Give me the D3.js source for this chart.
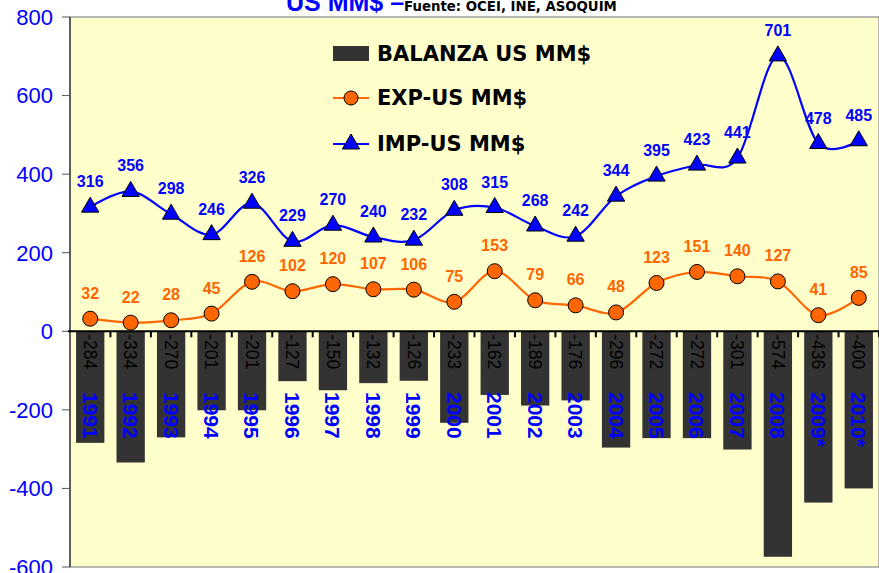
<!DOCTYPE html>
<html>
<head>
<meta charset="utf-8">
<script src="https://cdn.jsdelivr.net/npm/d3@7"></script>
<style>
  body { margin: 0; background: #ffffff; }
  svg { display: block; }
</style>
</head>
<body>
<script>
// balanza comercial quimica, US MM$ por año

var years = ["1991", "1992", "1993", "1994", "1995", "1996", "1997", "1998", "1999", "2000",
  "2001", "2002", "2003", "2004", "2005", "2006", "2007", "2008", "2009*", "2010*"];
var imports = [316, 356, 298, 246, 326, 229, 270, 240, 232, 308, 315, 268, 242, 344, 395, 423, 441, 701, 478, 485];
var exports = [32, 22, 28, 45, 126, 102, 120, 107, 106, 75, 153, 79, 66, 48, 123, 151, 140, 127, 41, 85];
var balance = [-284, -334, -270, -201, -201, -127, -150, -132, -126, -233, -162, -189, -176, -296, -272, -272, -301, -574, -436, -400];
var yTicks = [-600, -400, -200, 0, 200, 400, 600, 800];
var legendLabels = ["BALANZA US MM$", "EXP-US MM$", "IMP-US MM$"];

var width = 879, height = 573;
// note: "top" is taken by window.top, so plot* names
var plotLeft = 70, plotRight = 879, plotTop = 17, plotBottom = 567;

var svg = d3.select("body").append("svg")
  .attr("width", width)
  .attr("height", height)

var x = d3.scaleBand().domain(years).range([plotLeft, plotRight]).paddingInner(0.3).paddingOuter(0.15);
var xb = d3.scaleBand().domain(years).range([plotLeft, plotRight]);
var y = d3.scaleLinear().domain([-600, 800]).range([plotBottom, plotTop]);

function cx(d, i) { return xb(years[i]) + xb.bandwidth() / 2; }

// plot area
svg.append("rect")
  .attr("x", plotLeft).attr("y", plotTop)
  .attr("width", plotRight - plotLeft).attr("height", plotBottom - plotTop)
  .attr("fill", "#ffffcc")
  .attr("stroke", "#a0a0a0")
  .attr("stroke-width", 1.5)

// title (cut at top like the original)
var title = svg.append("text")
  .attr("x", 286).attr("y", 11)
  .attr("font-family", "Liberation Sans, Arial, sans-serif")
  .attr("font-weight", "bold")
  .attr("fill", "#0000ff")
  .attr("font-size", "25px")
  .text("US MM$ \u2013")
title.append("tspan")
  .attr("font-family", "DejaVu Sans, Verdana, sans-serif")
  .attr("font-size", "13.3px")
  .attr("fill", "#000")
  .text("Fuente: OCEI, INE, ASOQUIM")

// y axis
svg.append("line")
  .attr("x1", plotLeft).attr("x2", plotLeft).attr("y1", plotTop).attr("y2", plotBottom)
  .attr("stroke", "#222").attr("stroke-width", 1.2)

svg.selectAll(".ytick").data(yTicks).enter().append("line")
  .attr("x1", 62).attr("x2", plotLeft)
  .attr("y1", function (d) { return y(d); })
  .attr("y2", function (d) { return y(d); })
  .attr("stroke", "#555")

svg.selectAll(".ylab").data(yTicks).enter().append("text")
  .attr("x", 53)
  .attr("y", function (d) { return y(d); })
  .attr("dy", "0.36em")
  .attr("text-anchor", "end")
  .attr("font-family", "Liberation Sans, Arial, sans-serif")
  .attr("font-size", "22px")
  .attr("fill", "#0000ff")
  .text(function (d) { return d; })

// bars
svg.selectAll(".bar").data(balance).enter().append("rect")
  .attr("x", function (d, i) { return x(years[i]); })
  .attr("y", y(0))
  .attr("width", x.bandwidth())
  .attr("height", function (d) { return y(d) - y(0); })
  .attr("fill", "#333333")

// zero line + category ticks
svg.append("line")
  .attr("x1", plotLeft - 2).attr("x2", plotRight).attr("y1", y(0)).attr("y2", y(0))
  .attr("stroke", "#000").attr("stroke-width", 2)

svg.selectAll(".xtick").data(years).enter().append("line")
  .attr("x1", function (d) { return xb(d) + xb.bandwidth(); })
  .attr("x2", function (d) { return xb(d) + xb.bandwidth(); })
  .attr("y1", y(0)).attr("y2", y(0) + 6)
  .attr("stroke", "#000").attr("stroke-width", 2)

// bar value labels, rotated
svg.selectAll(".blab").data(balance).enter().append("text")
  .attr("transform", function (d, i) { return "translate(" + cx(d, i) + "," + (y(0) + 3) + ") rotate(90)"; })
  .attr("dy", "0.36em")
  .attr("font-family", "Liberation Sans, Arial, sans-serif")
  .attr("font-size", "17.5px")
  .attr("fill", "#000")
  .text(function (d) { return d; })

// year labels, rotated
svg.selectAll(".ylabel").data(years).enter().append("text")
  .attr("transform", function (d, i) { return "translate(" + cx(d, i) + ",392) rotate(90)"; })
  .attr("dy", "0.36em")
  .attr("font-family", "Liberation Sans, Arial, sans-serif")
  .attr("font-weight", "bold")
  .attr("font-size", "21px")
  .attr("fill", "#0000ff")
  .text(function (d) { return d; })

// lines
var line = d3.line()
  .x(function (d, i) { return cx(d, i); })
  .y(function (d) { return y(d); })
  .curve(d3.curveCardinal.tension(0))

svg.append("path").datum(exports)
  .attr("d", line)
  .attr("fill", "none").attr("stroke", "#ff6600").attr("stroke-width", 2.2)

svg.append("path").datum(imports)
  .attr("d", line)
  .attr("fill", "none").attr("stroke", "#0000ff").attr("stroke-width", 2.2)

var tri = d3.symbol().type(d3.symbolTriangle).size(130);

svg.selectAll(".expdot").data(exports).enter().append("circle")
  .attr("cx", cx)
  .attr("cy", function (d) { return y(d); })
  .attr("r", 7.5)
  .attr("fill", "#ff6600").attr("stroke", "#000").attr("stroke-width", 1)

svg.selectAll(".impdot").data(imports).enter().append("path")
  .attr("d", tri)
  .attr("transform", function (d, i) { return "translate(" + cx(d, i) + "," + y(d) + ")"; })
  .attr("fill", "#0000ff").attr("stroke", "#000").attr("stroke-width", 1)

// point labels
svg.selectAll(".explab").data(exports).enter().append("text")
  .attr("x", cx)
  .attr("y", function (d) { return y(d) - 20; })
  .attr("text-anchor", "middle")
  .attr("font-family", "Liberation Sans, Arial, sans-serif")
  .attr("font-weight", "bold")
  .attr("font-size", "16px")
  .attr("fill", "#ff6600")
  .text(function (d) { return d; })

svg.selectAll(".implab").data(imports).enter().append("text")
  .attr("x", cx)
  .attr("y", function (d) { return y(d) - 20; })
  .attr("text-anchor", "middle")
  .attr("font-family", "Liberation Sans, Arial, sans-serif")
  .attr("font-weight", "bold")
  .attr("font-size", "16px")
  .attr("fill", "#0000ff")
  .text(function (d) { return d; })

// legend
var lg = svg.append("g");
lg.append("rect").attr("x", 333).attr("y", 46).attr("width", 36).attr("height", 15).attr("fill", "#333333")
lg.append("line").attr("x1", 333).attr("x2", 369).attr("y1", 98).attr("y2", 98)
  .attr("stroke", "#ff6600").attr("stroke-width", 2)
lg.append("circle").attr("cx", 351).attr("cy", 98).attr("r", 7)
  .attr("fill", "#ff6600").attr("stroke", "#000")
lg.append("line").attr("x1", 333).attr("x2", 369).attr("y1", 144).attr("y2", 144)
  .attr("stroke", "#0000ff").attr("stroke-width", 2)
lg.append("path").attr("d", tri).attr("transform", "translate(351,144)")
  .attr("fill", "#0000ff").attr("stroke", "#000")

lg.selectAll("text").data(legendLabels).enter().append("text")
  .attr("x", 377)
  .attr("y", function (d, i) { return [61, 105, 151][i]; })
  .attr("font-family", "DejaVu Sans, Verdana, sans-serif")
  .attr("font-weight", "bold")
  .attr("font-size", "21px")
  .attr("fill", "#000")
  .text(function (d) { return d; })
</script>
</body>
</html>
